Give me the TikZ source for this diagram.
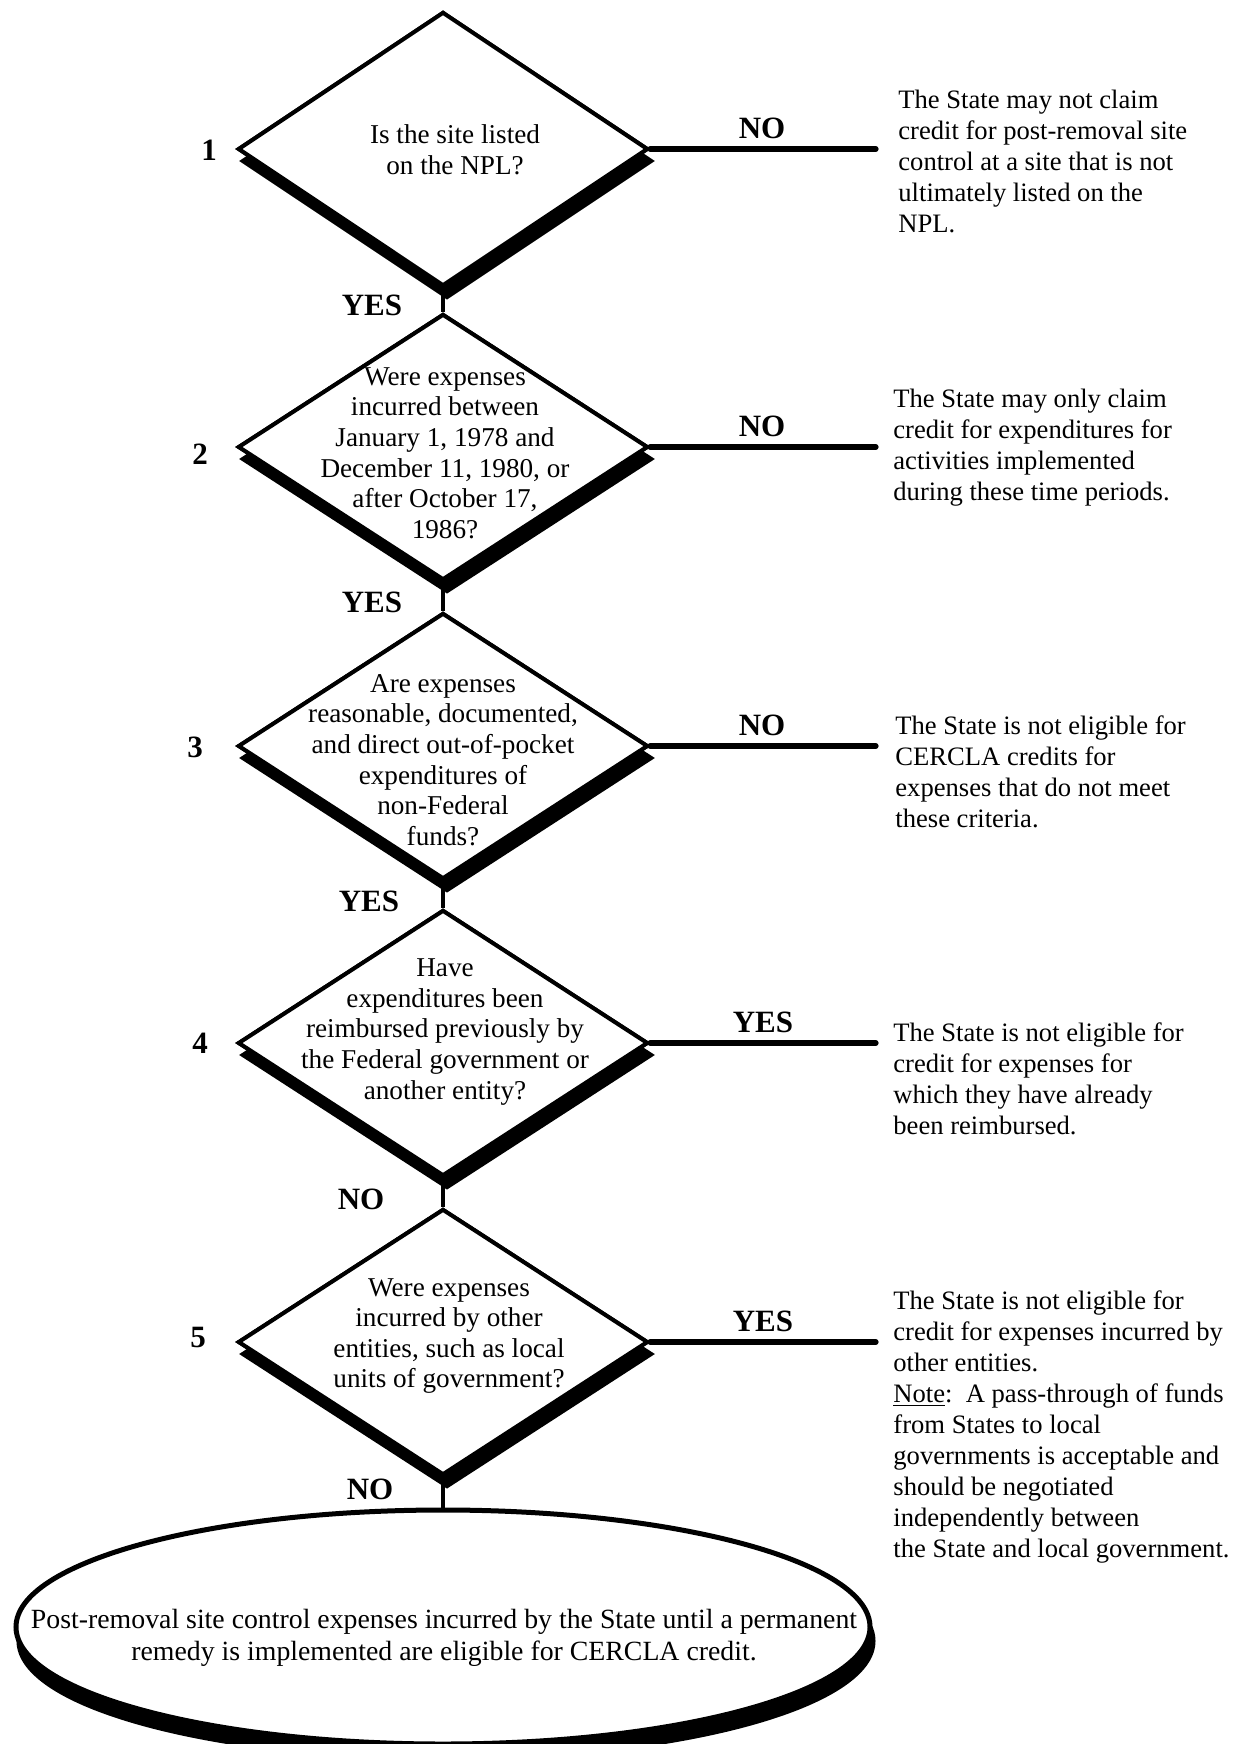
\documentclass[tikz,border=0pt]{standalone}
\usepackage{fontspec}
\setmainfont{Liberation Serif}
\usetikzlibrary{shapes.geometric}
\begin{document}
\begin{tikzpicture}[x=0.5pt,y=-0.5pt,
  dia/.style={diamond, draw=black, line width=2pt, inner sep=0pt, minimum width=205pt, minimum height=133pt},
  diashadow/.style={dia, fill=black},
  diabox/.style={dia, fill=white},
  ell/.style={ellipse, draw=black, line width=2.5pt, inner sep=0pt, minimum width=427pt, minimum height=117pt},
  qtext/.style={align=center, font=\fontsize{13.6}{15.3}\selectfont, inner sep=0pt},
  etext/.style={align=center, font=\fontsize{13.9}{15.8}\selectfont, inner sep=0pt},
  side/.style={align=left, anchor=west, font=\fontsize{13.3}{15.5}\selectfont, inner sep=0pt},
  lab/.style={font=\fontsize{15.5}{17}\selectfont\bfseries, inner sep=0pt},
  conn/.style={line width=1.9pt},
  hconn/.style={line width=2.6pt, line cap=round},
]
\useasboundingbox (0,0) rectangle (1233,1744);

% shadows
\node[diashadow, minimum height=137pt] (s1) at (447,161) {};
\node[diashadow] (s2) at (447,459) {};
\node[diashadow] (s3) at (447,758) {};
\node[diashadow] (s4) at (447,1055) {};
\node[diashadow] (s5) at (447,1354) {};
\node[ell, fill=black] (es) at (446,1641) {};

% shapes
\node[diabox, minimum height=137pt] (d1) at (443,149) {};
\node[diabox] (d2) at (443,447) {};
\node[diabox] (d3) at (443,746) {};
\node[diabox] (d4) at (443,1043) {};
\node[diabox] (d5) at (443,1342) {};
\node[ell, fill=white] (el) at (443,1627) {};

% connectors (vertical)
\draw[conn] (d1.south) -- (d2.north);
\draw[conn] (d2.south) -- (d3.north);
\draw[conn] (d3.south) -- (d4.north);
\draw[conn] (d4.south) -- (d5.north);
\draw[conn] (d5.south) -- (el.north);

% redraw diamonds on top of connectors
\node[diabox, minimum height=137pt] at (443,149) {};
\node[diabox] at (443,447) {};
\node[diabox] at (443,746) {};
\node[diabox] at (443,1043) {};
\node[diabox] at (443,1342) {};

% right connectors
\coordinate (e1) at (876,149);
\coordinate (e2) at (876,447);
\coordinate (e3) at (876,746);
\coordinate (e4) at (876,1043);
\coordinate (e5) at (876,1342);
\draw[hconn] (d1.east) -- (e1);
\draw[hconn] (d2.east) -- (e2);
\draw[hconn] (d3.east) -- (e3);
\draw[hconn] (d4.east) -- (e4);
\draw[hconn] (d5.east) -- (e5);

% question texts
\node[qtext] (q1) at (455,150) {Is the site listed\\on the NPL?};
\node[qtext] (q2) at (445,453) {Were expenses\\incurred between\\January 1, 1978 and\\December 11, 1980, or\\after October 17,\\1986?};
\node[qtext] (q3) at (443,760) {Are expenses\\reasonable, documented,\\and direct out-of-pocket\\expenditures of\\non-Federal\\funds?};
\node[qtext] (q4) at (445,1032) {Have\\expenditures been\\reimbursed previously by\\the Federal government or\\another entity?};
\node[qtext] (q5) at (449,1336) {Were expenses\\incurred by other\\entities, such as local\\units of government?};
\node[etext] (qe) at (444,1638) {Post-removal site control expenses incurred by the State until a permanent\\remedy is implemented are eligible for CERCLA credit.};

% step numbers
\node[lab] (k1) at (209,150) {1};
\node[lab] (k2) at (200,454) {2};
\node[lab] (k3) at (195,747) {3};
\node[lab] (k4) at (200,1043) {4};
\node[lab] (k5) at (198,1337) {5};

% branch labels (right)
\node[lab] (r1) at (762,128) {NO};
\node[lab] (r2) at (762,426) {NO};
\node[lab] (r3) at (762,725) {NO};
\node[lab] (r4) at (763,1022) {YES};
\node[lab] (r5) at (763,1321) {YES};

% branch labels (down)
\node[lab] (b1) at (372,305) {YES};
\node[lab] (b2) at (372,602) {YES};
\node[lab] (b3) at (369,901) {YES};
\node[lab] (b4) at (361,1199) {NO};
\node[lab] (b5) at (370,1489) {NO};

% side texts
\node[side] (t1) at (898,161) {The State may not claim\\credit for post-removal site\\control at a site that is not\\ultimately listed on the\\NPL.};
\node[side] (t2) at (893,448) {The State may only claim\\credit for expenditures for\\activities implemented\\during these time periods.};
\node[side] (t3) at (895,772) {The State is not eligible for\\CERCLA credits for\\expenses that do not meet\\these criteria.};
\node[side] (t4) at (893,1079) {The State is not eligible for\\credit for expenses for\\which they have already\\been reimbursed.};
\node[side] (t5) at (893,1427) {The State is not eligible for\\credit for expenses incurred by\\other entities.\\\underline{Note}:\ \ A pass-through of funds\\from States to local\\governments is acceptable and\\should be negotiated\\independently between\\the State and local government.};
\end{tikzpicture}
\end{document}
